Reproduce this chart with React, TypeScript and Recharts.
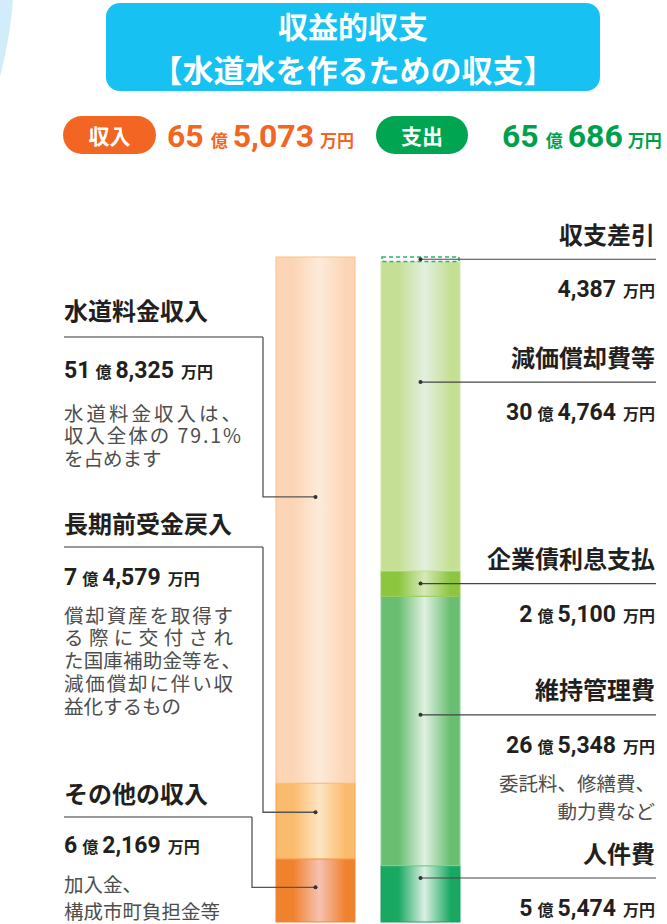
import React from 'react';
import { BarChart, Bar, XAxis, YAxis } from 'recharts';

// ---- data (万円) ----
const categories = ['収入', '支出'];
const incomeNames = ['水道料金収入', '長期前受金戻入', 'その他の収入'];
const incomeValues = [518325, 74579, 62169];
const expenseNames = ['収支差引', '減価償却費等', '企業債利息支払', '維持管理費', '人件費'];
const expenseValues = [4387, 304764, 25100, 265348, 55474];

const incomeTotal = incomeValues.reduce((a, b) => a + b, 0);
const expenseTotal = expenseValues.slice(1).reduce((a, b) => a + b, 0);
const waterShare = ((incomeValues[0] / incomeTotal) * 100).toFixed(1);

const incomeNotes = [
  ['水道料金収入は、', `収入全体の ${waterShare}%`, 'を占めます'],
  ['償却資産を取得す', 'る際に交付され', 'た国庫補助金等を、', '減価償却に伴い収', '益化するもの'],
  ['加入金、', '構成市町負担金等'],
];
const expenseNotes = [[], [], [], ['委託料、修繕費、', '動力費など'], []];

// ---- layout / styles ----
const LEFT_X = 64;
const RIGHT_X = 656;
const JP = "'Noto Sans CJK JP', sans-serif";
const NUM = "Roboto, 'Noto Sans CJK JP', sans-serif";
const DARK = '#231f20';
const NOTE = '#4d4d4d';

const incomeLayout = [
  { titleY: 309, lineY: 337, valueY: 370, notesY: 412, noteGap: 22.6, turnX: 263, frac: 0.456, justify: [177, 177, 0] },
  { titleY: 522, lineY: 547, valueY: 577, notesY: 614, noteGap: 22.8, turnX: 263, frac: 0.384, justify: [169, 169, 177, 169, 0] },
  { titleY: 792, lineY: 817, valueY: 845, notesY: 883, noteGap: 27, turnX: 252, frac: 0.45, justify: [0, 0] },
];
const expenseLayout = [{ frac: 0.5 }, { frac: 0.39 }, { frac: 0.5 }, { frac: 0.44 }, { frac: 0.22 }];

const incomeStyles = [
  { id: 'gIn0', edge: '#fcd5b6', mid: '#fdebda', stroke: '#fbc089' },
  { id: 'gIn1', edge: '#fbbb6d', mid: '#fde4c2', stroke: '#f7a24c' },
  { id: 'gIn2', edge: '#f0822e', mid: '#f6c1b2', stroke: '#ee8636' },
];
const expenseStyles = [
  { id: 'gEx0', edge: '#ffffff', mid: '#ffffff', stroke: '#2db36b' },
  { id: 'gEx1', edge: '#c5df95', mid: '#e3efdf', stroke: '#cfe6b0' },
  { id: 'gEx2', edge: '#8cc63e', mid: '#d6e9b8', stroke: '#9ccd5a' },
  { id: 'gEx3', edge: '#69be72', mid: '#dff0df', stroke: '#8fd09a' },
  { id: 'gEx4', edge: '#19a862', mid: '#daefe2', stroke: '#19a35c' },
];

const chartData = categories.map((name, i) => {
  const row: Record<string, any> = { name };
  if (i === 0) incomeValues.forEach((v, j) => (row[`in${j}`] = v));
  else expenseValues.forEach((v, j) => (row[`ex${j}`] = v));
  return row;
});

function Amount({ x, y, v, anchor = 'start', big = 23, small = 16, color = DARK, gaps = [5, 4, 7] }: any) {
  const oku = Math.floor(v / 10000);
  const man = v % 10000;
  return (
    <text x={x} y={y} textAnchor={anchor} fill={color} fontWeight={700} fontFamily={NUM}>
      {oku > 0 && <tspan fontSize={big}>{oku}</tspan>}
      {oku > 0 && <tspan fontSize={small} dx={gaps[0]} fontFamily={JP}>億</tspan>}
      <tspan fontSize={big} dx={oku > 0 ? gaps[1] : 0}>{man.toLocaleString('en-US')}</tspan>
      <tspan fontSize={small} dx={gaps[2]} fontFamily={JP}>万円</tspan>
    </text>
  );
}

function makeIncomeShape(idx: number) {
  return (p: any) => {
    const v = p.payload?.[`in${idx}`];
    if (v == null || !(p.height > 0)) return <g />;
    const { x, y, width, height } = p;
    const st = incomeStyles[idx];
    const L = incomeLayout[idx];
    const cx = x + width / 2;
    const dotY = y + height * L.frac;
    return (
      <g>
        <rect x={x} y={y} width={width} height={height} fill={`url(#${st.id})`} stroke={st.stroke} strokeWidth={1} />
        <text x={LEFT_X} y={L.titleY} dominantBaseline="central" fontSize={24} fontWeight={700} fontFamily={JP} fill={DARK}>
          {incomeNames[idx]}
        </text>
        <polyline points={`${LEFT_X},${L.lineY} ${L.turnX},${L.lineY}`} fill="none" stroke="#333" strokeWidth={1.1} />
        <polyline points={`${L.turnX},${L.lineY} ${L.turnX},${dotY} ${cx},${dotY}`} fill="none" stroke="#555" strokeWidth={1.3} />
        <circle cx={cx} cy={dotY} r={2} fill="#333" />
        <Amount x={LEFT_X} y={L.valueY + 8} v={v} />
        {incomeNotes[idx].map((t, k) => (
          <text key={k} x={LEFT_X} y={L.notesY + k * L.noteGap} dominantBaseline="central" fontSize={19.5} fontFamily={JP} fill={NOTE}
            {...(L.justify[k] ? { textLength: L.justify[k], lengthAdjust: 'spacing' } : {})}>
            {t}
          </text>
        ))}
      </g>
    );
  };
}

function makeExpenseShape(idx: number) {
  return (p: any) => {
    const v = p.payload?.[`ex${idx}`];
    if (v == null || !(p.height > 0)) return <g />;
    const { x, y, width, height } = p;
    const st = expenseStyles[idx];
    const L = expenseLayout[idx];
    const cx = x + width / 2;
    const dotY = y + height * L.frac;
    const dashed = idx === 0;
    return (
      <g>
        {dashed ? (
          <rect x={x + 1} y={y} width={width - 2} height={height} fill="#fff" stroke={st.stroke} strokeWidth={1.5} strokeDasharray="4 3" />
        ) : (
          <rect x={x} y={y} width={width} height={height} fill={`url(#${st.id})`} stroke={st.stroke} strokeWidth={1} />
        )}
        <line x1={cx} y1={dotY} x2={RIGHT_X} y2={dotY} stroke="#444" strokeWidth={1.1} />
        <circle cx={cx} cy={dotY} r={2} fill="#333" />
        <text x={RIGHT_X - 1} y={dotY - 26} textAnchor="end" dominantBaseline="central" fontSize={24} fontWeight={700} fontFamily={JP} fill={DARK}>
          {expenseNames[idx]}
        </text>
        <Amount x={RIGHT_X - 1} y={dotY + 30 + 8} v={v} anchor="end" />
        {expenseNotes[idx].map((t, k) => (
          <text key={k} x={RIGHT_X - 1} y={dotY + 68 + k * 28} textAnchor="end" dominantBaseline="central" fontSize={19.5} fontFamily={JP} fill={NOTE}>
            {t}
          </text>
        ))}
      </g>
    );
  };
}

function Header() {
  return (
    <svg width={667} height={924} style={{ position: 'absolute', left: 0, top: 0, pointerEvents: 'none' }}>
      <circle cx={-400} cy={-30} r={414} fill="#d3ecfa" />
      <rect x={106} y={3} width={494} height={88} rx={14} fill="#17c1f1" />
      <text x={353} y={25} textAnchor="middle" dominantBaseline="central" fontSize={30} fontWeight={700} fontFamily={JP} fill="#fff">
        収益的収支
      </text>
      <text x={353} y={68} textAnchor="middle" dominantBaseline="central" fontSize={31} fontWeight={700} fontFamily={JP} fill="#fff">
        【水道水を作るための収支】
      </text>
      <rect x={63} y={116} width={93} height={38} rx={19} fill="#f26522" />
      <text x={109.5} y={135} textAnchor="middle" dominantBaseline="central" fontSize={21} fontWeight={700} fontFamily={JP} fill="#fff">
        {categories[0]}
      </text>
      <Amount x={167} y={147} v={incomeTotal} big={32} small={17} color="#f26522" gaps={[7, 5, 6]} />
      <rect x={376} y={116} width={92} height={38} rx={19} fill="#00a551" />
      <text x={422} y={135} textAnchor="middle" dominantBaseline="central" fontSize={21} fontWeight={700} fontFamily={JP} fill="#fff">
        {categories[1]}
      </text>
      <Amount x={502} y={147} v={expenseTotal} big={32} small={17} color="#00a04b" gaps={[7, 5, 5]} />
    </svg>
  );
}

export default function App() {
  return (
    <div style={{ position: 'absolute', left: 0, top: 0, width: 667, height: 924, overflow: 'hidden', background: '#fff' }}>
      <BarChart width={667} height={924} data={chartData} margin={{ top: 257, right: 194, bottom: 2, left: 263 }}>
        <defs>
          {[...incomeStyles, ...expenseStyles].map((s) => (
            <linearGradient key={s.id} id={s.id} x1="0" y1="0" x2="1" y2="0">
              <stop offset="0%" stopColor={s.edge} />
              <stop offset="22%" stopColor={s.edge} />
              <stop offset="55%" stopColor={s.mid} />
              <stop offset="88%" stopColor={s.edge} />
              <stop offset="100%" stopColor={s.edge} />
            </linearGradient>
          ))}
        </defs>
        <XAxis dataKey="name" hide />
        <YAxis hide domain={[0, incomeTotal]} />
        {[2, 1, 0].map((j) => (
          <Bar key={`in${j}`} dataKey={`in${j}`} stackId="s" barSize={79} isAnimationActive={false} shape={makeIncomeShape(j)} />
        ))}
        {[4, 3, 2, 1, 0].map((j) => (
          <Bar key={`ex${j}`} dataKey={`ex${j}`} stackId="s" barSize={79} isAnimationActive={false} shape={makeExpenseShape(j)} />
        ))}
      </BarChart>
      <Header />
    </div>
  );
}
